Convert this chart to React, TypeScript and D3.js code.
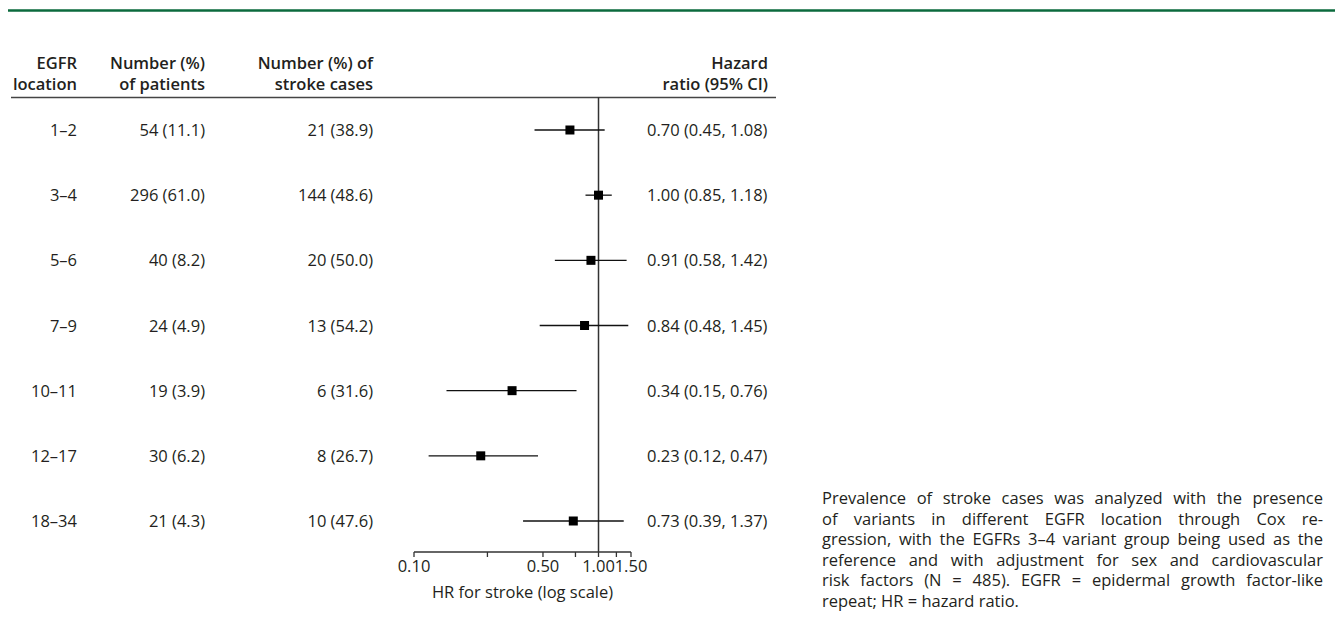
import React, { useEffect, useRef } from "react";
import * as d3 from "d3";

const locations = ["1–2", "3–4", "5–6", "7–9", "10–11", "12–17", "18–34"];
const patientsN = [54, 296, 40, 24, 19, 30, 21];
const patientsPct = [11.1, 61.0, 8.2, 4.9, 3.9, 6.2, 4.3];
const strokeN = [21, 144, 20, 13, 6, 8, 10];
const strokePct = [38.9, 48.6, 50.0, 54.2, 31.6, 26.7, 47.6];
const hr = [0.7, 1.0, 0.91, 0.84, 0.34, 0.23, 0.73];
const hrLow = [0.45, 0.85, 0.58, 0.48, 0.15, 0.12, 0.39];
const hrHigh = [1.08, 1.18, 1.42, 1.45, 0.76, 0.47, 1.37];

const tickValues = [0.1, 0.25, 0.5, 0.75, 1, 1.25, 1.5];
const tickLabels = [0.1, 0.5, 1, 1.5];

const headers = [
  { x: 77, lines: ["EGFR", "location"] },
  { x: 205, lines: ["Number (%)", "of patients"] },
  { x: 373, lines: ["Number (%) of", "stroke cases"] },
  { x: 768, lines: ["Hazard", "ratio (95% CI)"] },
];

const captionLines = [
  "Prevalence of stroke cases was analyzed with the presence",
  "of variants in different EGFR location through Cox re-",
  "gression, with the EGFRs 3–4 variant group being used as the",
  "reference and with adjustment for sex and cardiovascular",
  "risk factors (N = 485). EGFR = epidermal growth factor-like",
  "repeat; HR = hazard ratio.",
];

const FONT = "'Open Sans', 'Noto Sans', sans-serif";
const INK = "#231f20";
const FS = 16.5;

export default function App() {
  const capRef = useRef<SVGTextElement>(null);

  const x = d3.scaleLog().domain([0.1, 1.5]).range([414, 631]);
  const y = d3.scalePoint<string>().domain(locations).range([130, 521]);
  const fmt = d3.format(".1f");
  const fmt2 = d3.format(".2f");

  // justify caption lines through word-spacing
  useEffect(() => {
    const left = 822;
    const right = 1323;
    const t = d3.select(capRef.current);
    t.selectAll("tspan").each(function (_, i) {
      if (i === captionLines.length - 1) return;
      const el = this as SVGTSpanElement;
      const w = el.getComputedTextLength();
      const spaces = captionLines[i].split(" ").length - 1;
      d3.select(el).style("word-spacing", `${(right - left - w) / spaces}px`);
    });
  }, []);

  const txt = {
    fontFamily: FONT,
    fontSize: FS,
    fill: INK,
  } as const;

  return (
    <svg
      width={1335}
      height={632}
      style={{ position: "absolute", left: 0, top: 0 }}
    >
      <line x1={8} x2={1335} y1={10.5} y2={10.5} stroke="#0b6a3d" strokeWidth={2.5} />

      {/* headers */}
      <g style={{ fontFamily: FONT, fontSize: FS, fontWeight: 600 }} fill={INK} textAnchor="end">
        {headers.map((h) => (
          <text key={h.x} x={h.x} y={69}>
            <tspan x={h.x}>{h.lines[0]}</tspan>
            <tspan x={h.x} dy={21}>{h.lines[1]}</tspan>
          </text>
        ))}
      </g>
      <line x1={11} x2={776} y1={97.5} y2={97.5} stroke="#444" strokeWidth={1.5} />

      {/* reference line */}
      <line x1={x(1)} x2={x(1)} y1={97} y2={552} stroke="#333" strokeWidth={1.5} />

      {locations.map((loc, i) => {
        const cy = y(loc) as number;
        return (
          <g key={loc}>
            <text {...txt} x={77} y={cy + 6} textAnchor="end">{loc}</text>
            <text {...txt} x={205} y={cy + 6} textAnchor="end">
              {`${patientsN[i]} (${fmt(patientsPct[i])})`}
            </text>
            <text {...txt} x={373} y={cy + 6} textAnchor="end">
              {`${strokeN[i]} (${fmt(strokePct[i])})`}
            </text>
            <line x1={x(hrLow[i])} x2={x(hrHigh[i])} y1={cy} y2={cy} stroke="#111" strokeWidth={1.3} />
            <rect x={x(hr[i]) - 4.5} y={cy - 4.5} width={9} height={9} fill="#000" />
            <text {...txt} x={647} y={cy + 6}>
              {`${fmt2(hr[i])} (${fmt2(hrLow[i])}, ${fmt2(hrHigh[i])})`}
            </text>
          </g>
        );
      })}

      {/* axis */}
      <line x1={x(0.1)} x2={x(1.5)} y1={552} y2={552} stroke="#333" strokeWidth={1.3} />
      {tickValues.map((t) => (
        <line key={t} x1={x(t)} x2={x(t)} y1={552} y2={557} stroke="#333" strokeWidth={1.3} />
      ))}
      {tickLabels.map((t) => (
        <text key={t} {...txt} x={x(t)} y={572} textAnchor="middle">{fmt2(t)}</text>
      ))}
      <text {...txt} x={(x(0.1) + x(1.5)) / 2} y={598} textAnchor="middle">
        HR for stroke (log scale)
      </text>

      {/* caption */}
      <text ref={capRef} {...txt} y={504}>
        {captionLines.map((line, i) => (
          <tspan key={i} x={822} dy={i === 0 ? 0 : 20.6}>{line}</tspan>
        ))}
      </text>
    </svg>
  );
}
